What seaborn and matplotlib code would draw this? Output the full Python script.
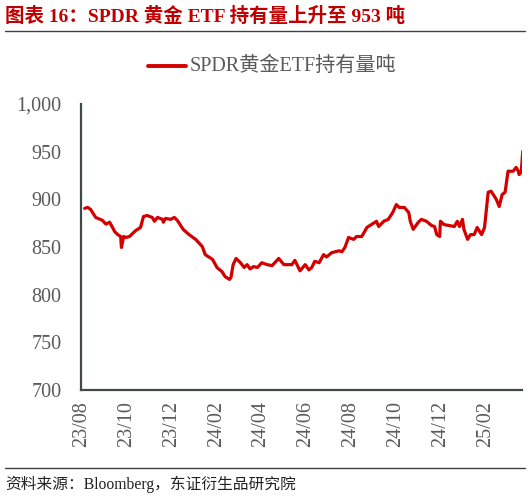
import matplotlib
matplotlib.use("Agg")
import matplotlib.pyplot as plt
import matplotlib.dates as mdates
from matplotlib.ticker import FuncFormatter
import seaborn as sns
import pandas as pd
import numpy as np

start_date = "2023-08-01"
days_since_start = [4, 8, 12, 19, 28, 33, 38, 45, 49, 53, 54, 57, 60, 65, 73, 80, 84, 89, 96, 99,
                    103, 110, 111, 114, 121, 126, 130, 138, 146, 155, 164, 168, 178, 184, 191, 195,
                    201, 203, 206, 210, 216, 221, 225, 229, 234, 239, 245, 252, 259, 268, 275, 286,
                    290, 297, 304, 309, 313, 317, 323, 329, 333, 340, 350, 354, 358, 363, 370, 374,
                    381, 388, 394, 401, 404, 411, 417, 423, 428, 432, 439, 445, 447, 451, 458, 462,
                    469, 476, 480, 483, 487, 488, 493, 507, 511, 514, 518, 520, 525, 529, 534, 538,
                    544, 548, 553, 557, 564, 568, 572, 576, 580, 587, 591, 594, 595, 598, 600]
holdings = [890.5, 891.6, 889.5, 881, 878, 874, 876, 866, 863, 861, 849.5, 861, 860, 861, 867, 870.5,
            882, 883, 881, 877, 881, 879, 876, 880, 879, 881, 878, 868.5, 863, 858, 850.5, 842, 837,
            828.5, 824, 819, 816, 818, 831.5, 838, 833.5, 828.5, 831.5, 827, 829.5, 828.5, 833.5,
            831.5, 830.5, 838, 831.5, 831.5, 836, 825, 831.5, 826, 828.5, 835, 833.5, 842, 839.5,
            844, 846, 845, 849.5, 860, 858, 861, 861, 870.5, 873.5, 877, 871.5, 877, 879, 886, 894.5,
            891.5, 891.5, 886, 877, 868.5, 876, 879, 877, 872.5, 871.5, 863, 861, 877, 873.5, 871.5,
            877, 871.5, 879, 868.5, 858, 863, 863, 870.5, 863, 870.5, 907.5, 908.5, 900, 892.5, 905,
            907.5, 929.5, 929.5, 933.5, 929.5, 926, 928.5, 950.5]
y_ticks = [700, 750, 800, 850, 900, 950, 1000]
series_name = "SPDR黄金ETF持有量吨"
title_text = "图表 16：SPDR 黄金 ETF 持有量上升至 953 吨"
source_text = "资料来源：Bloomberg，东证衍生品研究院"

df = pd.DataFrame({
    "date": pd.to_datetime(start_date) + pd.to_timedelta(days_since_start, unit="D"),
    "value": holdings,
})

sns.set_theme(style="white")
fams = ["Liberation Serif", "Noto Sans CJK SC", "DejaVu Sans"]
plt.rcParams["font.family"] = fams

W, H = 530, 499
fig = plt.figure(figsize=(W / 100, H / 100), dpi=100)
ax = fig.add_axes([81 / W, 1 - 390 / H, (522 - 81) / W, (390 - 104) / H])

red = "#D40000"
sns.lineplot(data=df, x="date", y="value", ax=ax, color=red, linewidth=2.3, legend=False)

ax.set_ylim(700, 1000)
ax.set_yticks(y_ticks)
ax.yaxis.set_major_formatter(FuncFormatter(lambda v, p: f"{int(v):,}"))
ax.set_xlim(pd.Timestamp("2023-07-31"), pd.Timestamp("2025-03-22"))
ax.xaxis.set_major_locator(mdates.MonthLocator(bymonth=[2, 4, 6, 8, 10, 12]))
ax.xaxis.set_major_formatter(mdates.DateFormatter("%y/%m"))
ax.set_xlabel("")
ax.set_ylabel("")

spine_col = "#3F4A48"
for s in ["top", "right"]:
    ax.spines[s].set_visible(False)
for s in ["left", "bottom"]:
    ax.spines[s].set_color(spine_col)
    ax.spines[s].set_linewidth(1.6)
lab_col = "#5A5A5A"
ax.tick_params(axis="both", direction="in", length=4, width=1.2, color=spine_col,
               labelcolor=lab_col, labelsize=14.5)
ax.tick_params(axis="y", pad=14)
ax.tick_params(axis="x", pad=8)
for lbl in ax.get_xticklabels():
    lbl.set_rotation(90)
    lbl.set_va("top")
    lbl.set_ha("center")

# legend
fig.lines.append(plt.Line2D([148 / W, 186 / W], [1 - 66 / H, 1 - 66 / H], color=red,
                            linewidth=2.8, transform=fig.transFigure))
fig.text(190 / W, 1 - 66 / H, series_name, color=lab_col, fontsize=14.5, va="center", ha="left",
         family=fams)

# title and rules
fig.text(5 / W, 1 - 16 / H, title_text, color="#C00000", fontsize=14, fontweight="bold",
         va="center", ha="left", family=fams)
fig.lines.append(plt.Line2D([5 / W, 525 / W], [1 - 31 / H, 1 - 31 / H], color="#404040",
                            linewidth=1.0, transform=fig.transFigure))
fig.lines.append(plt.Line2D([5 / W, 525 / W], [1 - 468 / H, 1 - 468 / H], color="#404040",
                            linewidth=1.0, transform=fig.transFigure))
fig.text(5 / W, 1 - 484 / H, source_text, color="#222222", fontsize=11.3, va="center", ha="left",
         family=fams)

fig.savefig("out.png", dpi=100, facecolor="white")
